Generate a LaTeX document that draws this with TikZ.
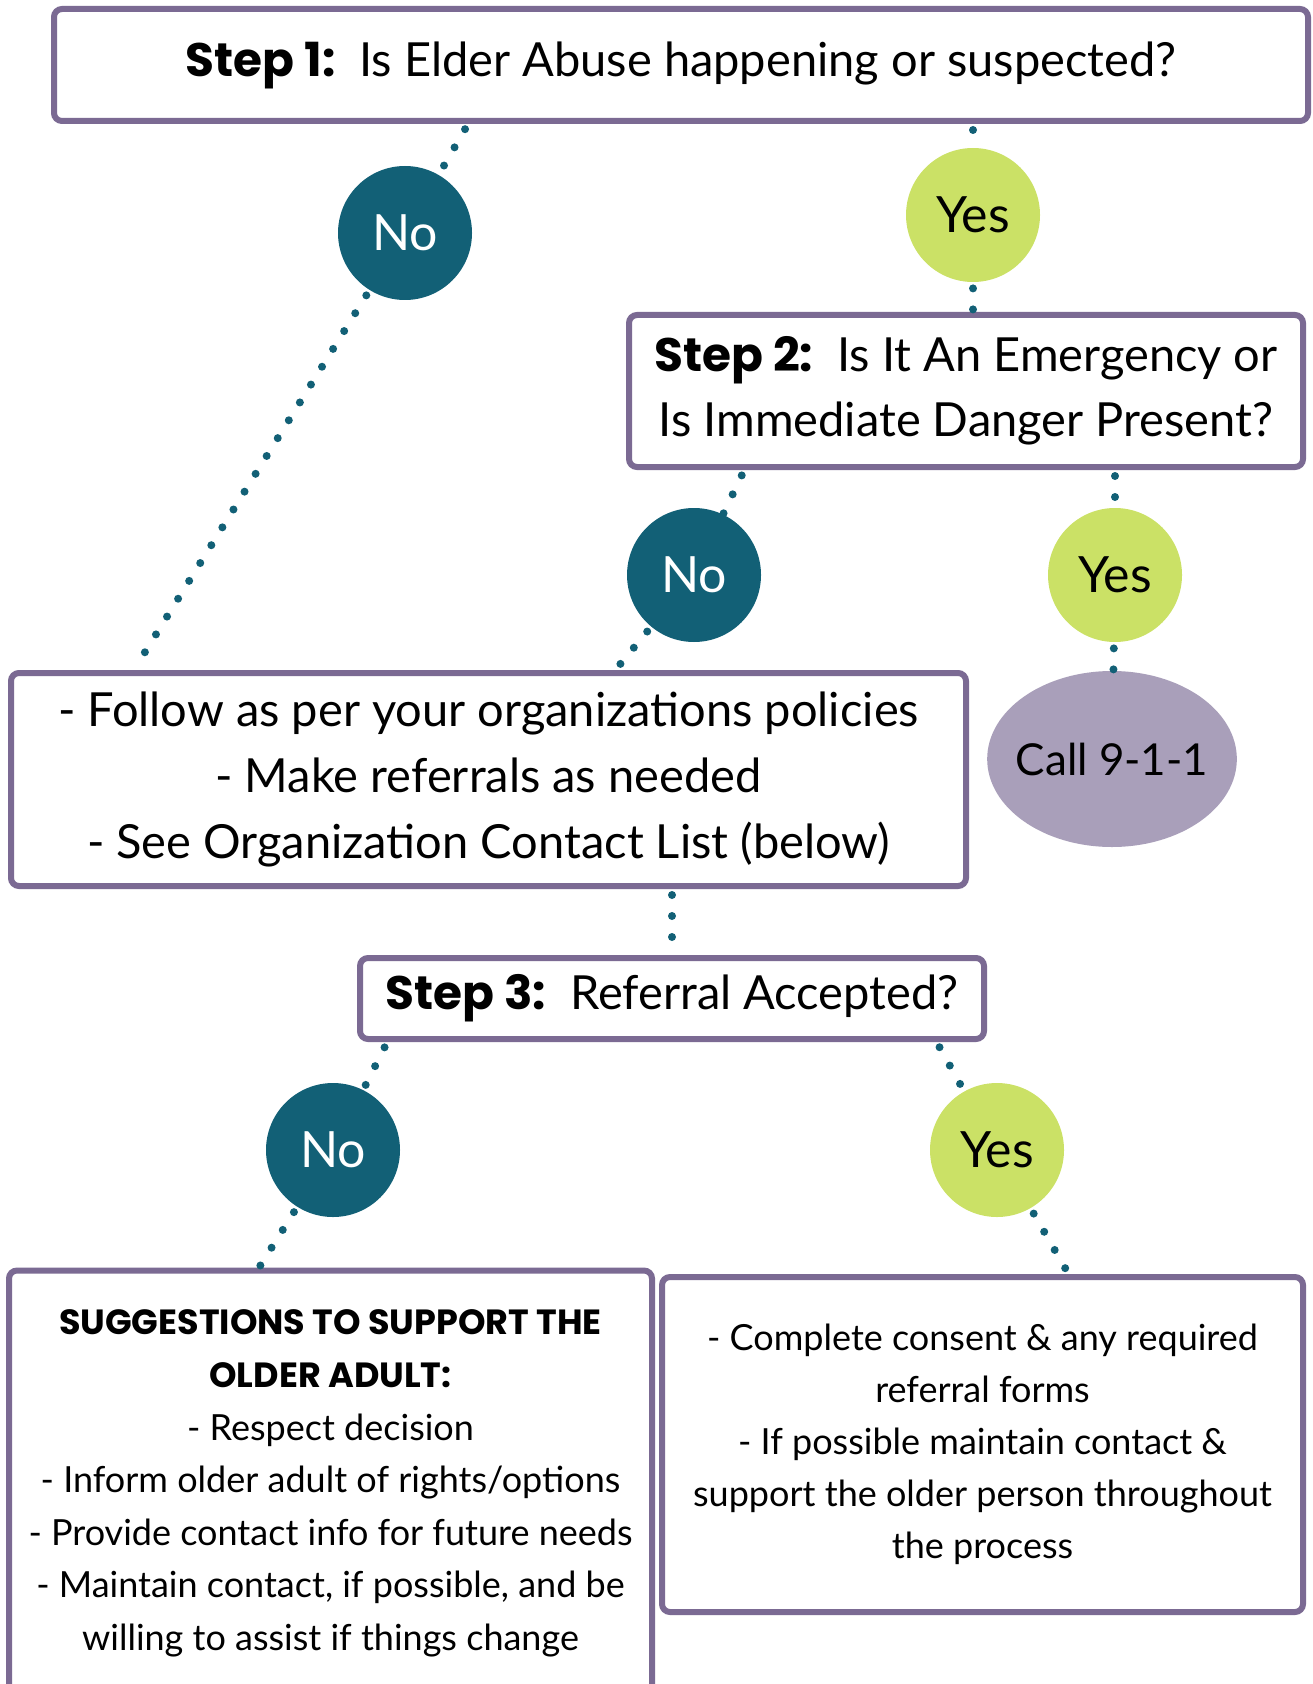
\documentclass[tikz,border=0pt]{standalone}
\usepackage{fontspec}
\setmainfont{Lato}
\newfontfamily\headfont{Poppins}
\usetikzlibrary{shapes.geometric, calc}

\definecolor{boxpurple}{RGB}{123,106,147}
\definecolor{noteal}{RGB}{18,96,118}
\definecolor{yeslime}{RGB}{203,225,102}
\definecolor{calllilac}{RGB}{169,159,186}

\newcommand{\stepword}[1]{{\headfont\bfseries #1}}
\newcommand{\suggword}[1]{{\headfont\bfseries\fontsize{17.5}{26.3}\selectfont #1}}

\tikzset{
  stepbox/.style={draw=boxpurple, line width=3pt, rounded corners=4pt, fill=white,
    inner sep=0pt, align=center, font=\fontsize{23.5}{32.5}\selectfont},
  answer/.style={circle, minimum size=67pt, inner sep=0pt, font=\fontsize{25}{28}\selectfont},
  nocircle/.style={answer, fill=noteal, text=white},
  yescircle/.style={answer, fill=yeslime},
  dotline/.style={draw=noteal, line width=4pt, line cap=round,
    dash pattern=on 0pt off 10.5pt, shorten <=3pt},
}

\begin{document}
\begin{tikzpicture}[x=0.5pt, y=-0.5pt]
  \useasboundingbox (0,0) rectangle (1312,1684);

  % questions
  \node[stepbox, minimum width=627pt, minimum height=56pt] (s1) at (681,65)
    {\stepword{Step 1:}\ \ Is Elder Abuse happening or suspected?};
  \node[stepbox, minimum width=337pt, minimum height=76pt] (s2) at (966,391)
    {\stepword{Step 2:}\ \ Is It An Emergency or\\ Is Immediate Danger Present?};
  \node[stepbox, minimum width=312pt, minimum height=40.5pt] (s3) at (672,998.5)
    {\stepword{Step 3:}\ \ Referral Accepted?};

  % answers
  \node[nocircle] (no1) at (405,233) {No};
  \node[yescircle] (yes1) at (973,215) {Yes};
  \node[nocircle] (no2) at (694,575) {No};
  \node[yescircle] (yes2) at (1115,575) {Yes};
  \node[nocircle] (no3) at (333,1150) {No};
  \node[yescircle] (yes3) at (997,1150) {Yes};

  \node[ellipse, fill=calllilac, minimum width=124.5pt, minimum height=88pt,
    inner xsep=-4pt, inner ysep=0pt, font=\fontsize{22}{25}\selectfont] (call) at (1112,759) {Call 9-1-1};

  % outcomes
  \node[stepbox, minimum width=477.5pt, minimum height=106.5pt, font=\fontsize{23.5}{33}\selectfont]
    (follow) at (488.5,779.5)
    {- Follow as per your organizations policies\\
     - Make referrals as needed\\
     - See Organization Contact List (below)};
  \node[stepbox, minimum width=321.5pt, minimum height=213pt, font=\fontsize{18}{26.3}\selectfont]
    (sugg) at (330.5,1483.5)
    {\suggword{SUGGESTIONS TO SUPPORT THE}\\
     \suggword{OLDER ADULT:}\\
     - Respect decision\\
     - Inform older adult of rights/options\\
     - Provide contact info for future needs\\
     - Maintain contact, if possible, and be\\
     willing to assist if things change};
  \node[stepbox, minimum width=320.5pt, minimum height=167.5pt, font=\fontsize{18}{26}\selectfont]
    (done) at (982.5,1444.5)
    {- Complete consent \& any required\\
     referral forms\\
     - If possible maintain contact \&\\
     support the older person throughout\\
     the process};

  % dotted connectors
  \draw[dotline] ($(s1.south west)!0.331!(s1.south east)$) -- (no1);
  \draw[dotline] (no1) -- ($(follow.north west)!0.131!(follow.north east)$);
  \draw[dotline] (s1.south -| yes1) -- (yes1);
  \draw[dotline] (yes1) -- (yes1 |- s2.north);
  \draw[dotline] ($(s2.south west)!0.174!(s2.south east)$) -- (no2);
  \draw[dotline] (no2) -- ($(follow.north west)!0.632!(follow.north east)$);
  \draw[dotline] (s2.south -| yes2) -- (yes2);
  \draw[dotline] (yes2) -- (call);
  \draw[dotline] (follow.south -| s3) -- (s3.north);
  \draw[dotline] ($(s3.south west)!0.048!(s3.south east)$) -- (no3);
  \draw[dotline] (no3) -- ($(sugg.north west)!0.39!(sugg.north east)$);
  \draw[dotline] ($(s3.south west)!0.92!(s3.south east)$) -- (yes3);
  \draw[dotline] (yes3) -- ($(done.north west)!0.633!(done.north east)$);
\end{tikzpicture}
\end{document}
